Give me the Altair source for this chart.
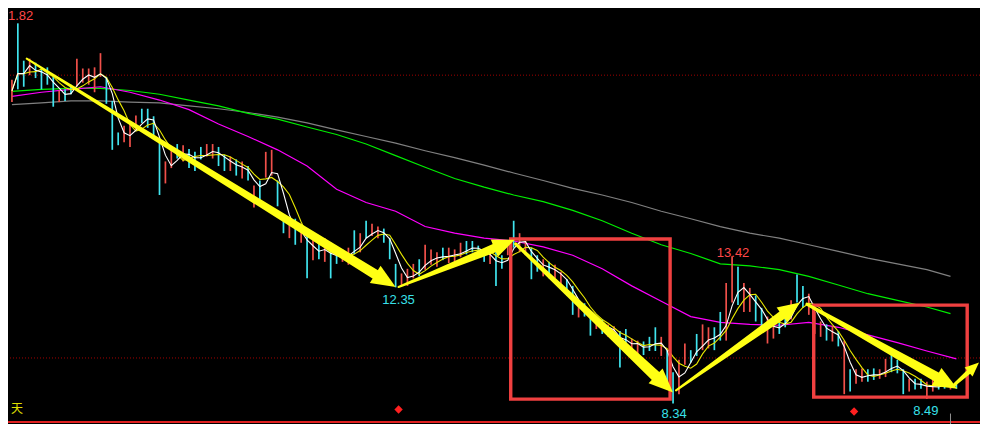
import math
import altair as alt
import pandas as pd

# ---------------- data (prices) ----------------
HIGH = [19.52, 21.47, 20.18, 20.25, 20.11, 19.95, 19.95, 19.62, 19.15, 19.19,
        19.35, 20.25, 19.91, 19.91, 19.95, 20.44, 19.62, 18.79, 17.70, 17.93,
        18.09, 18.29, 18.52, 18.52, 18.26, 17.46, 16.70, 17.20, 17.30, 17.26,
        17.13, 17.03, 17.20, 17.30, 17.30, 17.20, 16.93, 16.87, 16.77, 16.70,
        16.54, 15.87, 16.04, 17.03, 17.10, 16.04, 14.88, 14.78, 14.72, 14.55,
        14.28, 14.05, 13.99, 14.05, 13.89, 13.72, 13.66, 13.72, 14.32, 14.22,
        14.65, 14.55, 14.45, 14.38, 14.05, 13.16, 12.83, 12.99, 13.16, 13.32,
        13.82, 13.66, 13.56, 13.72, 13.72, 13.66, 13.89, 13.95, 13.95, 13.79,
        13.66, 13.62, 13.56, 13.46, 13.82, 14.65, 14.22, 13.95, 13.72, 13.46,
        13.32, 13.23, 13.13, 12.89, 12.63, 12.40, 11.74, 11.80, 11.34, 11.31,
        11.24, 11.07, 11.01, 10.84, 10.91, 10.58, 10.51, 10.48, 10.64, 10.97,
        10.64, 10.18, 9.42, 9.85, 10.41, 10.18, 10.74, 11.07, 10.97, 10.97,
        11.50, 12.50, 13.42, 13.06, 12.50, 12.33, 12.07, 11.64, 11.34, 11.24,
        11.40, 11.64, 11.90, 12.79, 12.40, 12.13, 11.50, 11.17, 11.07, 11.01,
        10.84, 10.51, 9.52, 9.52, 9.55, 9.52, 9.55, 9.52, 9.88, 10.01,
        9.85, 9.52, 9.19, 9.19, 9.19, 9.09, 9.15, 9.15, 9.15, 9.12, 9.09]
LOW = [18.75, 19.19, 19.28, 19.68, 19.58, 19.19, 19.35, 18.59, 18.75, 18.79,
       19.02, 19.28, 19.42, 19.35, 19.09, 19.62, 18.69, 17.10, 17.26, 17.36,
       17.20, 17.79, 18.03, 17.86, 17.60, 15.54, 15.94, 16.47, 16.80, 16.70,
       16.47, 16.37, 16.77, 16.87, 16.80, 16.54, 16.37, 16.37, 16.21, 16.11,
       16.04, 15.11, 15.38, 16.14, 16.21, 15.15, 14.22, 14.05, 13.82, 13.89,
       12.66, 13.29, 13.32, 13.23, 12.66, 13.16, 13.23, 13.13, 13.49, 13.56,
       14.05, 14.12, 14.05, 13.89, 13.32, 12.35, 12.40, 12.40, 12.66, 12.73,
       12.96, 13.13, 13.06, 13.29, 13.19, 13.23, 13.39, 13.49, 13.56, 13.46,
       13.23, 13.16, 12.40, 12.99, 13.46, 13.72, 13.56, 13.46, 12.63, 12.89,
       12.73, 12.66, 12.66, 12.33, 12.07, 11.40, 11.31, 11.34, 10.68, 10.91,
       10.74, 10.64, 10.58, 9.58, 10.34, 10.15, 9.98, 10.01, 10.15, 10.15,
       9.98, 9.09, 8.34, 8.66, 9.68, 9.75, 9.98, 10.18, 10.24, 10.18,
       10.51, 10.51, 11.83, 11.74, 11.50, 11.50, 11.17, 10.84, 10.41, 10.58,
       10.74, 10.97, 11.24, 11.83, 11.64, 11.40, 10.74, 10.64, 10.51, 10.48,
       10.31, 8.66, 8.75, 9.02, 9.09, 9.09, 9.15, 9.19, 9.25, 9.42,
       9.38, 8.66, 8.75, 8.82, 8.85, 8.49, 8.75, 8.82, 8.85, 8.82, 8.85]
UP = "udduddddudduuuuuddduuudddduududdduuddudududuuddududududduududuuddduuuduuuduuuddddudduduudduduuddudduduudduudddudduudduudduuduudduuddudduuudududuudduudddudduuddudu"
UP = UP[:len(HIGH)]

MAG_IDX = list(range(0, 161, 5))
MA60 = [18.95, 19.09, 19.19, 19.28, 19.09, 18.82, 18.49, 17.99, 17.56, 17.10,
        16.54, 15.74, 15.28, 14.98, 14.45, 14.22, 14.05, 13.95, 13.75, 13.46,
        12.99, 12.40, 11.87, 11.34, 11.14, 11.07, 11.04, 11.14, 10.97, 10.71,
        10.44, 10.15, 9.88]
LONG_IDX = list(range(0, 156, 5)) + [159]
MA120 = [19.12, 19.19, 19.22, 19.22, 19.15, 19.02, 18.82, 18.62, 18.36, 18.16,
         17.89, 17.63, 17.30, 16.90, 16.50, 16.11, 15.81, 15.54, 15.31, 15.01,
         14.65, 14.22, 13.82, 13.52, 13.16, 13.09, 12.96, 12.73, 12.43, 12.13,
         11.90, 11.67, 11.44]
MA250 = [18.66, 18.72, 18.79, 18.79, 18.75, 18.72, 18.62, 18.52, 18.39, 18.23,
         18.03, 17.79, 17.56, 17.33, 17.07, 16.83, 16.57, 16.30, 16.04, 15.77,
         15.54, 15.28, 14.98, 14.72, 14.45, 14.22, 14.05, 13.82, 13.59, 13.36,
         13.16, 12.96, 12.73]

ARROW_X0 = [2.5, 65.5, 85.33, 112.5, 134.67, 159.67]
ARROW_Y0 = [20.25, 12.36, 13.85, 8.79, 11.77, 8.99]
ARROW_X1 = [65.0, 85.17, 112.0, 133.5, 160.17, 163.83]
ARROW_Y1 = [12.36, 13.99, 8.72, 11.83, 8.85, 9.75]

BOX_X0 = [84.5, 135.83]
BOX_X1 = [111.5, 161.83]
BOX_Y0 = [14.02, 11.735]
BOX_Y1 = [8.49, 8.556]

LOW_LABELS = ["12.35", "8.34", "8.49"]
LOW_X = [65.5, 112.17, 154.83]
LOW_Y = [11.90, 7.96, 8.09]
HIGH_LABELS = ["13.42"]
HIGH_X = [122.17]
HIGH_Y = [13.52]

DOT_Y = [19.68, 9.91]
DIA_X = [65.5, 142.67]
DIA_Y = [8.13, 8.06]

# ---------------- styles ----------------
W, H = 972, 416
XD = [-0.667, 164.0]
YD = [7.629, 22.0]
RED_BAR = "#f0504a"
CYAN_BAR = "#40e4ee"
YEL = "#ffff14"
BOX_RED = "#f04040"
SHAFT_W0 = [2, 2, 3, 2, 3, 3]
SHAFT_W1 = [10, 9, 11, 9, 10, 5]
HEAD_LEN = [24, 22, 24, 22, 24, 14]
HEAD_PATH = "M1,0L-1,-0.85L-1,0.85Z"

XS = alt.Scale(domain=XD, nice=False, zero=False)
YS = alt.Scale(domain=YD, nice=False, zero=False)


def X(f):
    return alt.X(f, type="quantitative", scale=XS, axis=None)


def Y(f):
    return alt.Y(f, type="quantitative", scale=YS, axis=None)


# ---------------- tables ----------------
bars = pd.DataFrame({"i": list(range(len(HIGH))), "hi": HIGH, "lo": LOW,
                     "up": list(UP)})

kx = W / (XD[1] - XD[0])
ky = H / (YD[1] - YD[0])
trail_rows, head_rows = [], []
for k in range(len(ARROW_X0)):
    x0, y0, x1, y1 = ARROW_X0[k], ARROW_Y0[k], ARROW_X1[k], ARROW_Y1[k]
    dxp = (x1 - x0) * kx
    dyp = -(y1 - y0) * ky
    L = math.hypot(dxp, dyp)
    hl = HEAD_LEN[k]
    ang = math.degrees(math.atan2(dyp, dxp)) % 360
    fb = 1 - 0.85 * hl / L
    fc = 1 - 0.5 * hl / L
    trail_rows.append({"k": k, "o": 0, "x": x0, "y": y0, "w": SHAFT_W0[k]})
    trail_rows.append({"k": k, "o": 1, "x": x0 + (x1 - x0) * fb,
                       "y": y0 + (y1 - y0) * fb, "w": SHAFT_W1[k]})
    head_rows.append({"x": x0 + (x1 - x0) * fc, "y": y0 + (y1 - y0) * fc,
                      "a": ang, "s": hl * hl})
trails = pd.DataFrame(trail_rows)
heads = pd.DataFrame(head_rows)

mag = pd.DataFrame({"i": MAG_IDX, "p": MA60})
grn = pd.DataFrame({"i": LONG_IDX, "p": MA120})
gry = pd.DataFrame({"i": LONG_IDX, "p": MA250})
boxes = pd.DataFrame({"x0": BOX_X0, "x1": BOX_X1, "y0": BOX_Y0, "y1": BOX_Y1})
low_labels = pd.DataFrame({"t": LOW_LABELS, "x": LOW_X, "y": LOW_Y})
high_labels = pd.DataFrame({"t": HIGH_LABELS, "x": HIGH_X, "y": HIGH_Y})
dots = pd.DataFrame({"y": DOT_Y})
dias = pd.DataFrame({"x": DIA_X, "y": DIA_Y})
corner = pd.DataFrame({"t": ["1.82"], "x": [XD[0]], "y": [21.735]})
daytxt = pd.DataFrame({"t": ["天"], "x": [-0.167], "y": [8.16]})
bottom = pd.DataFrame({"y": [7.70]})
tick = pd.DataFrame({"x": [159.0], "y": [7.99], "y2": [YD[0]]})

# ---------------- layers ----------------
dot_layer = alt.Chart(dots).mark_rule(color="#a00000", strokeWidth=1,
                                      strokeDash=[1, 2]).encode(y=Y("y"))
bottom_layer = alt.Chart(bottom).mark_rule(color="#e02020", strokeWidth=2).encode(y=Y("y"))
tick_layer = alt.Chart(tick).mark_rule(color="#909090", strokeWidth=1).encode(
    x=X("x"), y=Y("y"), y2="y2:Q")

gry_layer = alt.Chart(gry).mark_line(color="#808080", strokeWidth=1.2).encode(x=X("i"), y=Y("p"))
grn_layer = alt.Chart(grn).mark_line(color="#00ee00", strokeWidth=1.2).encode(x=X("i"), y=Y("p"))
mag_layer = alt.Chart(mag).mark_line(color="#ff00ff", strokeWidth=1.2).encode(x=X("i"), y=Y("p"))

bar_layer = alt.Chart(bars).mark_rule(strokeWidth=1.7).encode(
    x=X("i"), y=Y("hi"), y2="lo:Q",
    color=alt.Color("up:N", scale=alt.Scale(domain=["u", "d"], range=[RED_BAR, CYAN_BAR]),
                    legend=None))

ma_base = alt.Chart(bars).transform_calculate(
    mid="(datum.hi + datum.lo) / 2"
).transform_window(
    ma5="mean(mid)", frame=[-2, 0], sort=[alt.SortField("i")]
).transform_window(
    ma10="mean(mid)", frame=[-4, 0], sort=[alt.SortField("i")]
)
ma10_layer = ma_base.mark_line(color="#e8e800", strokeWidth=1.1).encode(x=X("i"), y=Y("ma10"))
ma5_layer = ma_base.mark_line(color="#ffffff", strokeWidth=1.1).encode(x=X("i"), y=Y("ma5"))

box_layer = alt.Chart(boxes).mark_rect(fillOpacity=0, stroke=BOX_RED, strokeWidth=3.4).encode(
    x=X("x0"), x2="x1:Q", y=Y("y0"), y2="y1:Q")

trail_layer = alt.Chart(trails).mark_trail(color=YEL).encode(
    x=X("x"), y=Y("y"), detail="k:N", order=alt.Order("o:Q"),
    size=alt.Size("w:Q", scale=None, legend=None))
head_layer = alt.Chart(heads).mark_point(shape=HEAD_PATH, filled=True, color=YEL,
                                         opacity=1, strokeWidth=0).encode(
    x=X("x"), y=Y("y"), angle=alt.Angle("a:Q", scale=None),
    size=alt.Size("s:Q", scale=None, legend=None))

low_label_layer = alt.Chart(low_labels).mark_text(
    font="Liberation Sans", fontSize=13, align="center", baseline="middle",
    color="#38e0ea").encode(x=X("x"), y=Y("y"), text="t:N")
high_label_layer = alt.Chart(high_labels).mark_text(
    font="Liberation Sans", fontSize=13, align="center", baseline="middle",
    color="#ff4848").encode(x=X("x"), y=Y("y"), text="t:N")
corner_layer = alt.Chart(corner).mark_text(font="Liberation Sans", fontSize=13, align="left",
                                           baseline="middle", color="#ff4848").encode(
    x=X("x"), y=Y("y"), text="t:N")
day_layer = alt.Chart(daytxt).mark_text(font="Noto Sans CJK SC", fontSize=12, align="left",
                                        baseline="middle", color="#e0e000").encode(
    x=X("x"), y=Y("y"), text="t:N")
dia_layer = alt.Chart(dias).mark_point(shape="diamond", filled=True, color="#ff2020",
                                       size=70, opacity=1).encode(x=X("x"), y=Y("y"))

chart = alt.layer(
    dot_layer, gry_layer, grn_layer, mag_layer, bar_layer, ma10_layer, ma5_layer,
    box_layer, trail_layer, head_layer, low_label_layer, high_label_layer,
    corner_layer, day_layer, dia_layer, bottom_layer, tick_layer
).properties(
    width=W, height=H, background="#000000", padding=0,
    autosize=alt.AutoSizeParams(type="none")
).configure_view(stroke=None)

chart.save("out.html", embed_options={"renderer": "svg", "actions": False})
